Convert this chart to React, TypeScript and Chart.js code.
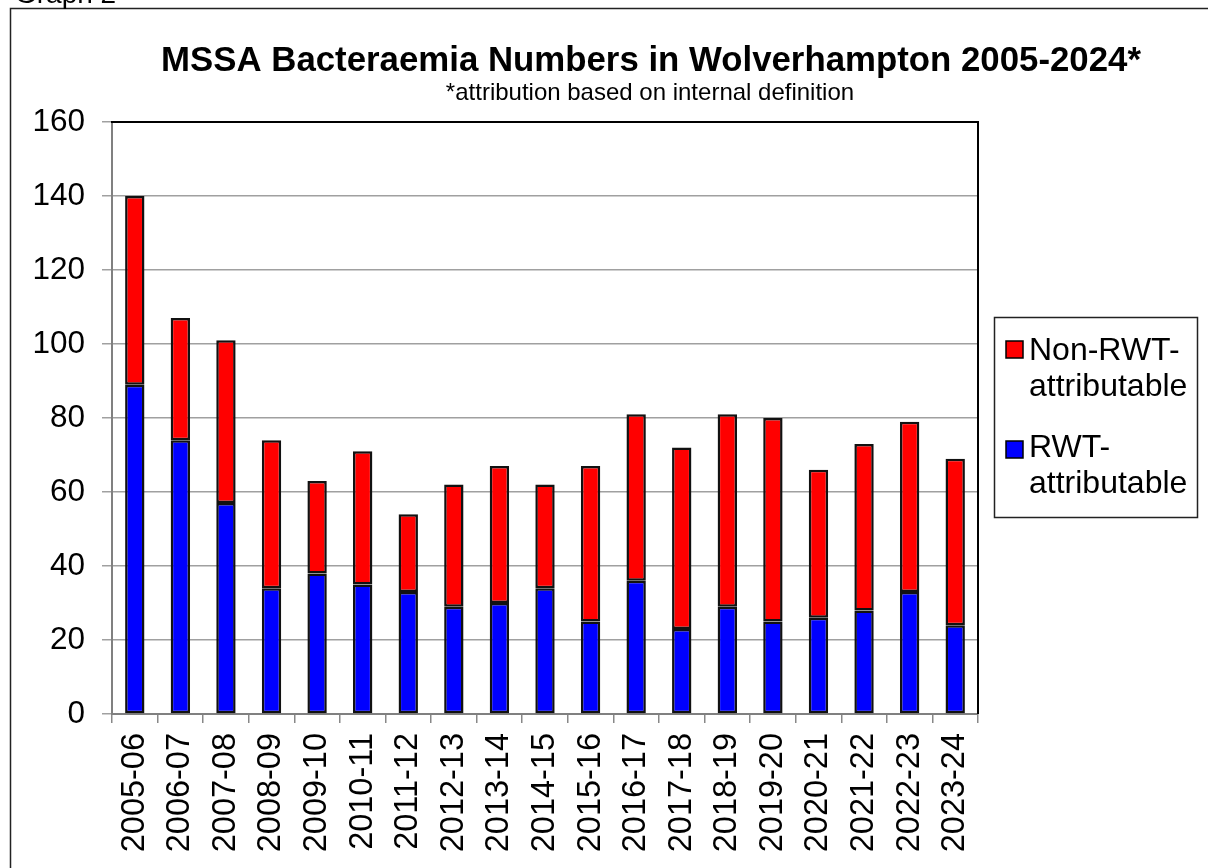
import { useEffect, useRef } from "react";
import { Chart, registerables } from "chart.js";

Chart.register(...registerables);

const pageLabel = "Graph 2";
const chartTitle = "MSSA Bacteraemia Numbers in Wolverhampton 2005-2024*";
const chartSubtitle = "*attribution based on internal definition";

const categories = [
  "2005-06", "2006-07", "2007-08", "2008-09", "2009-10", "2010-11", "2011-12",
  "2012-13", "2013-14", "2014-15", "2015-16", "2016-17", "2017-18", "2018-19",
  "2019-20", "2020-21", "2021-22", "2022-23", "2023-24",
];

const rwtAttributable = [89, 74, 57, 34, 38, 35, 33, 29, 30, 34, 25, 36, 23, 29, 25, 26, 28, 33, 24];
const nonRwtAttributable = [51, 33, 44, 40, 25, 36, 21, 33, 37, 28, 42, 45, 49, 52, 55, 40, 45, 46, 45];

const seriesLabels = ["RWT-attributable", "Non-RWT-attributable"];
const seriesColors = ["#0000ff", "#ff0000"];

const yMin = 0;
const yMax = 160;
const yStep = 20;

const FONT = "'Liberation Sans', Arial, Helvetica, sans-serif";

const decorPlugin = {
  id: "decor",
  afterDraw(chart: any) {
    const { ctx, chartArea } = chart;
    ctx.save();
    // outer frame (left + top)
    ctx.strokeStyle = "#222";
    ctx.lineWidth = 1.5;
    ctx.beginPath();
    ctx.moveTo(10.5, 868);
    ctx.lineTo(10.5, 8.5);
    ctx.lineTo(1208, 8.5);
    ctx.stroke();

    // page label (cut off at top)
    ctx.fillStyle = "#000";
    ctx.textBaseline = "alphabetic";
    ctx.textAlign = "left";
    ctx.font = `28px ${FONT}`;
    ctx.fillText(pageLabel, 15, 3);

    // title + subtitle
    ctx.textAlign = "center";
    ctx.font = `bold 34.8px ${FONT}`;
    ctx.fillText(chartTitle, 651, 71);
    ctx.font = `24px ${FONT}`;
    ctx.fillText(chartSubtitle, 650, 100);

    // plot frame top + right
    ctx.strokeStyle = "#000";
    ctx.lineWidth = 2;
    ctx.beginPath();
    ctx.moveTo(chartArea.left - 1, chartArea.top);
    ctx.lineTo(chartArea.right, chartArea.top);
    ctx.lineTo(chartArea.right, chartArea.bottom);
    ctx.stroke();

    // legend
    ctx.strokeStyle = "#222";
    ctx.lineWidth = 1.5;
    ctx.strokeRect(994.5, 317.5, 203, 200);
    const datasets = chart.data.datasets.slice().reverse();
    ctx.textAlign = "left";
    ctx.font = `32px ${FONT}`;
    datasets.forEach((ds: any, i: number) => {
      const sqY = 341 + i * 100;
      ctx.fillStyle = ds.backgroundColor;
      ctx.fillRect(1006, sqY, 17, 17);
      ctx.strokeStyle = "#000";
      ctx.lineWidth = 1.5;
      ctx.strokeRect(1006, sqY, 17, 17);
      const lines = String(ds.label).replace("RWT-", "RWT-\n").split("\n");
      ctx.fillStyle = "#000";
      lines.forEach((ln: string, j: number) => {
        ctx.fillText(ln, 1029, 360 + i * 97 + j * 36);
      });
    });
    ctx.restore();
  },
};

export default function App() {
  const ref = useRef<HTMLCanvasElement | null>(null);

  useEffect(() => {
    if (!ref.current) return;
    Chart.defaults.font.family = FONT;
    Chart.defaults.color = "#000";
    const chart = new Chart(ref.current, {
      type: "bar",
      data: {
        labels: categories,
        datasets: [
          {
            label: seriesLabels[0],
            data: rwtAttributable,
            backgroundColor: seriesColors[0],
            borderColor: "#111",
            borderWidth: 2.5,
            borderSkipped: false,
          },
          {
            label: seriesLabels[1],
            data: nonRwtAttributable,
            backgroundColor: seriesColors[1],
            borderColor: "#111",
            borderWidth: 2.5,
            borderSkipped: false,
          },
        ],
      },
      options: {
        responsive: false,
        animation: false,
        layout: { padding: { left: 10, top: 122, right: 230, bottom: 0 } },
        datasets: { bar: { categoryPercentage: 1, barPercentage: 0.425 } },
        plugins: {
          legend: { display: false },
          title: { display: false },
          tooltip: { enabled: false },
        },
        scales: {
          x: {
            stacked: true,
            grid: {
              display: true,
              drawOnChartArea: false,
              drawTicks: true,
              tickLength: 9,
              color: "#888",
              lineWidth: 1.5,
            },
            border: { display: true, color: "#808080", width: 2 },
            ticks: {
              minRotation: 90,
              maxRotation: 90,
              padding: 10,
              autoSkip: false,
              font: { size: 32.5 },
              color: "#000",
            },
            afterFit(scale: any) {
              scale.height = 154;
            },
          },
          y: {
            stacked: true,
            min: yMin,
            max: yMax,
            ticks: { stepSize: yStep, padding: 17, font: { size: 31.5 }, color: "#000" },
            grid: {
              color: "#a0a0a0",
              lineWidth: 1.5,
              drawTicks: true,
              tickLength: 10,
            },
            border: { display: true, color: "#808080", width: 2 },
            afterFit(scale: any) {
              scale.width = 102;
            },
          },
        },
      },
      plugins: [decorPlugin],
    });
    return () => chart.destroy();
  }, []);

  return (
    <div style={{ position: "fixed", left: 0, top: 0, width: 1208, height: 868, background: "#fff" }}>
      <canvas ref={ref} width={1208} height={868} style={{ display: "block" }} />
    </div>
  );
}
